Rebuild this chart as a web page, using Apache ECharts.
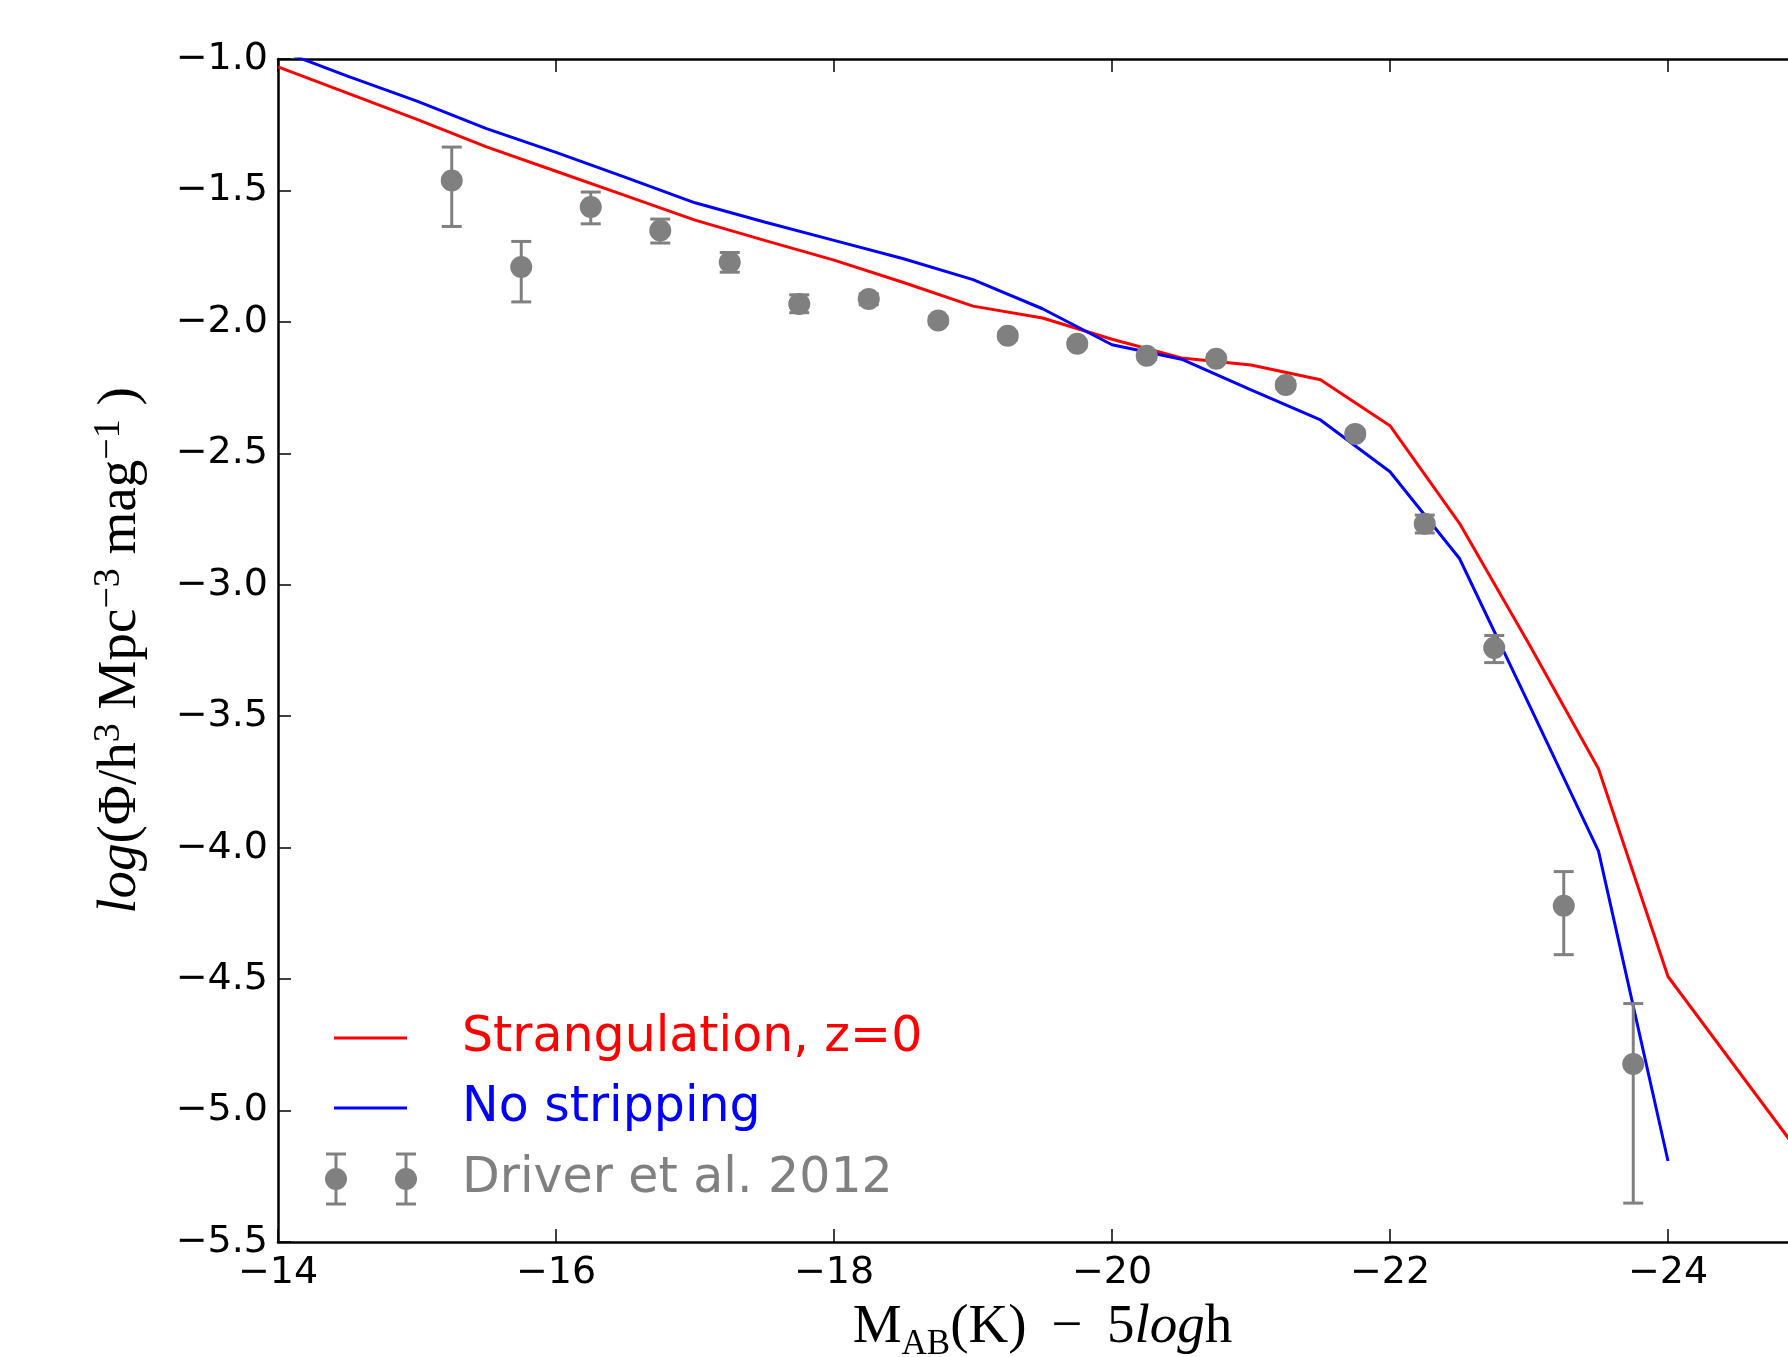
<!DOCTYPE html>
<html>
<head>
<meta charset="utf-8">
<script src="https://cdn.jsdelivr.net/npm/echarts@6/dist/echarts.min.js"></script>
<style>
  html, body { margin: 0; padding: 0; background: #fff; }
  #chart { width: 1788px; height: 1357px; }
</style>
</head>
<body>
<div id="chart"></div>
<script>
// ---------- data ----------
const xTickValues = [-24, -22, -20, -18, -16, -14];

const strangX = [-14, -14.5, -15, -15.5, -16, -16.5, -17, -17.5, -18, -18.5, -19, -19.5, -20, -20.5, -21, -21.5, -22, -22.5, -23, -23.5, -24, -25];
const strangY = [-1.03, -1.13, -1.23, -1.334, -1.427, -1.52, -1.613, -1.69, -1.765, -1.85, -1.94, -1.985, -2.066, -2.137, -2.164, -2.22, -2.395, -2.766, -3.225, -3.70, -4.49, -5.20];

const noStripX = [-14, -14.5, -15, -15.5, -16, -16.5, -17, -17.5, -18, -18.5, -19, -19.5, -20, -20.5, -21, -21.5, -22, -22.5, -23, -23.5, -24];
const noStripY = [-0.965, -1.065, -1.16, -1.265, -1.355, -1.45, -1.547, -1.62, -1.69, -1.76, -1.839, -1.95, -2.087, -2.142, -2.259, -2.373, -2.57, -2.90, -3.455, -4.013, -5.192];

const obsX  = [-15.25, -15.75, -16.25, -16.75, -17.25, -17.75, -18.25, -18.75, -19.25, -19.75, -20.25, -20.75, -21.25, -21.75, -22.25, -22.75, -23.25, -23.75];
const obsY  = [-1.462, -1.791, -1.563, -1.652, -1.773, -1.932, -1.913, -1.995, -2.053, -2.083, -2.129, -2.140, -2.240, -2.426, -2.768, -3.240, -4.221, -4.823];
const obsLo = [-1.637, -1.924, -1.627, -1.700, -1.811, -1.965, -1.935, -2.010, -2.068, -2.098, -2.144, -2.155, -2.255, -2.441, -2.803, -3.296, -4.407, -5.352];
const obsHi = [-1.335, -1.694, -1.506, -1.609, -1.736, -1.897, -1.893, -1.980, -2.038, -2.068, -2.114, -2.125, -2.225, -2.411, -2.735, -3.193, -4.091, -4.593];

const legendNames = ['Strangulation, z=0', 'No stripping', 'Driver et al. 2012'];

// ---------- chart ----------
const RED = '#ff0000', BLUE = '#0000ff', GREY = '#808080';
const chart = echarts.init(document.getElementById('chart'), null, { renderer: 'canvas' });

const fmtMinus = s => String(s).replace('-', '\u2212');
const serif = '"Liberation Serif", "DejaVu Serif", serif';

const gridLeft = 278, gridTop = 59, gridW = 1529, gridH = 1183;

const option = {
  animation: false,
  backgroundColor: '#fff',
  grid: { left: gridLeft, top: gridTop, width: gridW, height: gridH, containLabel: false, outerBoundsMode: 'none' },
  xAxis: [
    {
      type: 'value', min: -25, max: -14, inverse: true, position: 'bottom',
      axisLine: { show: true, onZero: false, lineStyle: { color: '#000', width: 2.5 } },
      axisTick: { show: true, inside: true, length: 13, lineStyle: { color: '#000', width: 1.5 }, customValues: xTickValues },
      axisLabel: { show: true, margin: 12, color: '#000', fontFamily: '"DejaVu Sans"', fontSize: 38,
                   customValues: xTickValues, formatter: v => fmtMinus(v) },
      splitLine: { show: false },
      name: '{r|M}{sub|AB}{r|(K) \u2009\u2212 \u20095}{i|log}{r|h}',
      nameLocation: 'middle', nameGap: 52,
      nameTextStyle: {
        rich: {
          r: { fontFamily: serif, fontSize: 55, lineHeight: 68, color: '#000' },
          i: { fontFamily: serif, fontStyle: 'italic', fontSize: 55, lineHeight: 68, color: '#000' },
          sub: { fontFamily: serif, fontSize: 35, lineHeight: 36, verticalAlign: 'bottom', color: '#000' }
        }
      }
    },
    {
      type: 'value', min: -25, max: -14, inverse: true, position: 'top',
      axisLine: { show: true, onZero: false, lineStyle: { color: '#000', width: 2.5 } },
      axisTick: { show: true, inside: true, length: 13, lineStyle: { color: '#000', width: 1.5 }, customValues: xTickValues },
      axisLabel: { show: false, customValues: xTickValues },
      splitLine: { show: false }
    }
  ],
  yAxis: [
    {
      type: 'value', min: -5.5, max: -1.0, interval: 0.5,
      axisLine: { show: true, onZero: false, lineStyle: { color: '#000', width: 2.5 } },
      axisTick: { show: true, inside: true, length: 13, lineStyle: { color: '#000', width: 1.5 } },
      axisLabel: { show: true, margin: 10, color: '#000', fontFamily: '"DejaVu Sans"', fontSize: 38,
                   formatter: v => fmtMinus(v.toFixed(1)) },
      splitLine: { show: false },
      name: '{i|log}{r|(\u03A6/h}{sup|3}{r| Mpc}{sup|\u22123}{r| mag}{sup|\u22121}{r| )}',
      nameLocation: 'middle', nameGap: 126, nameRotate: 90,
      nameTextStyle: {
        rich: {
          r: { fontFamily: serif, fontSize: 55, lineHeight: 62, color: '#000' },
          i: { fontFamily: serif, fontStyle: 'italic', fontSize: 55, lineHeight: 62, color: '#000' },
          sup: { fontFamily: serif, fontSize: 38, lineHeight: 32, verticalAlign: 'top', color: '#000' }
        }
      }
    }
  ],
  series: [
    {
      name: legendNames[0], type: 'line', xAxisIndex: 0, yAxisIndex: 0,
      data: strangX.map((x, i) => [x, strangY[i]]),
      showSymbol: false, symbol: 'none', clip: true,
      lineStyle: { color: RED, width: 3 }, z: 2
    },
    {
      name: legendNames[1], type: 'line', xAxisIndex: 0, yAxisIndex: 0,
      data: noStripX.map((x, i) => [x, noStripY[i]]),
      showSymbol: false, symbol: 'none', clip: true,
      lineStyle: { color: BLUE, width: 3 }, z: 2
    },
    {
      name: legendNames[2] + ' errors', type: 'custom', xAxisIndex: 0, yAxisIndex: 0,
      data: obsX.map((x, i) => [x, obsLo[i], obsHi[i]]),
      encode: { x: 0, y: [1, 2] },
      renderItem: function (params, api) {
        const x = api.value(0);
        const pLo = api.coord([x, api.value(1)]);
        const pHi = api.coord([x, api.value(2)]);
        const hw = 10;
        const st = { stroke: GREY, lineWidth: 3 };
        return {
          type: 'group',
          children: [
            { type: 'line', shape: { x1: pLo[0], y1: pLo[1], x2: pHi[0], y2: pHi[1] }, style: st },
            { type: 'line', shape: { x1: pLo[0] - hw, y1: pLo[1], x2: pLo[0] + hw, y2: pLo[1] }, style: st },
            { type: 'line', shape: { x1: pHi[0] - hw, y1: pHi[1], x2: pHi[0] + hw, y2: pHi[1] }, style: st }
          ]
        };
      },
      z: 3
    },
    {
      name: legendNames[2], type: 'scatter', xAxisIndex: 0, yAxisIndex: 0,
      data: obsX.map((x, i) => [x, obsY[i]]),
      symbol: 'circle', symbolSize: 22,
      itemStyle: { color: GREY, opacity: 1 }, z: 4
    }
  ],
  graphic: [
    // legend handles
    { type: 'line', shape: { x1: 334, y1: 1038, x2: 407, y2: 1038 }, style: { stroke: RED, lineWidth: 3 } },
    { type: 'line', shape: { x1: 334, y1: 1108, x2: 407, y2: 1108 }, style: { stroke: BLUE, lineWidth: 3 } },
    { type: 'line', shape: { x1: 336, y1: 1154, x2: 336, y2: 1204 }, style: { stroke: GREY, lineWidth: 3 } },
    { type: 'line', shape: { x1: 326, y1: 1154, x2: 346, y2: 1154 }, style: { stroke: GREY, lineWidth: 3 } },
    { type: 'line', shape: { x1: 326, y1: 1204, x2: 346, y2: 1204 }, style: { stroke: GREY, lineWidth: 3 } },
    { type: 'circle', shape: { cx: 336, cy: 1179, r: 11 }, style: { fill: GREY } },
    { type: 'line', shape: { x1: 406, y1: 1154, x2: 406, y2: 1204 }, style: { stroke: GREY, lineWidth: 3 } },
    { type: 'line', shape: { x1: 396, y1: 1154, x2: 416, y2: 1154 }, style: { stroke: GREY, lineWidth: 3 } },
    { type: 'line', shape: { x1: 396, y1: 1204, x2: 416, y2: 1204 }, style: { stroke: GREY, lineWidth: 3 } },
    { type: 'circle', shape: { cx: 406, cy: 1179, r: 11 }, style: { fill: GREY } },
    // legend texts
    { type: 'text', x: 462, y: 1038, style: { text: legendNames[0], fill: RED, font: '49px "DejaVu Sans"', textVerticalAlign: 'middle', verticalAlign: 'middle' } },
    { type: 'text', x: 462, y: 1108, style: { text: legendNames[1], fill: BLUE, font: '49px "DejaVu Sans"', textVerticalAlign: 'middle', verticalAlign: 'middle' } },
    { type: 'text', x: 462, y: 1179, style: { text: legendNames[2], fill: GREY, font: '49px "DejaVu Sans"', textVerticalAlign: 'middle', verticalAlign: 'middle' } }
  ]
};
chart.setOption(option);
</script>
</body>
</html>
